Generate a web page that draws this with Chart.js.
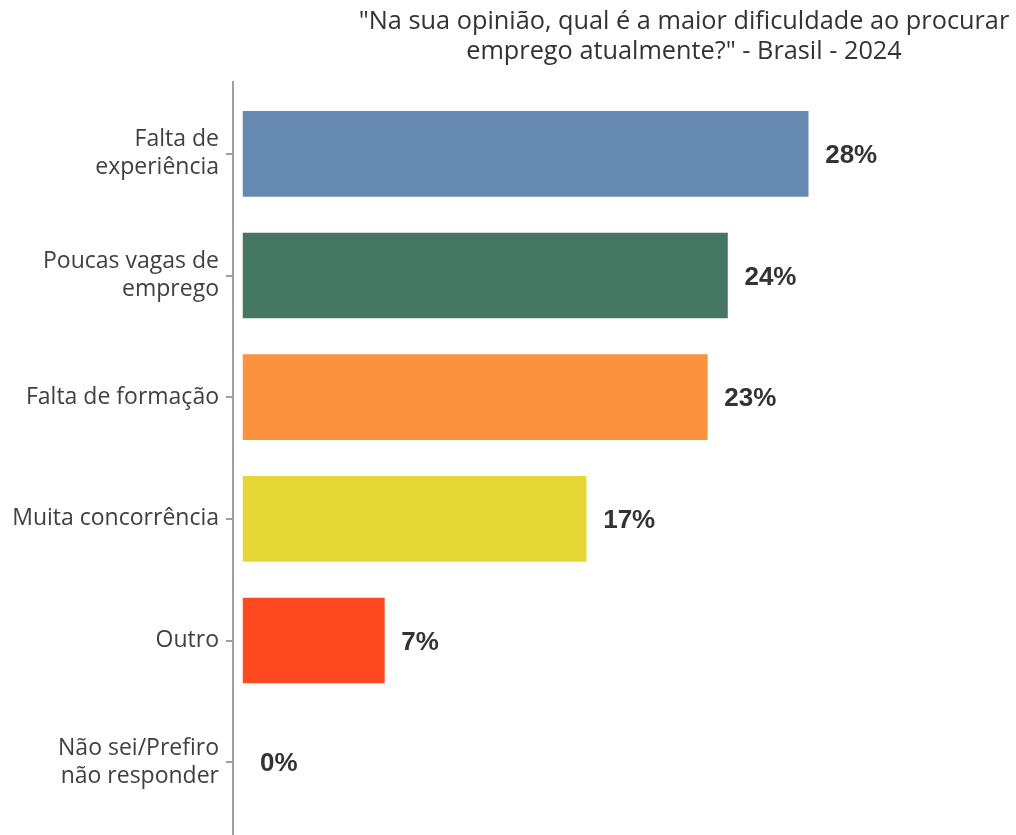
<!DOCTYPE html>
<html>
<head>
<meta charset="utf-8">
<script src="https://cdn.jsdelivr.net/npm/chart.js@4/dist/chart.umd.min.js"></script>
<style>
html,body{margin:0;padding:0;background:#fff;}
#wrap{width:1016px;height:835px;position:relative;}
</style>
</head>
<body>
<div id="wrap"><canvas id="c" width="1016" height="835"></canvas></div>
<script>
const categories = [
  ["Falta de", "experiência"],
  ["Poucas vagas de", "emprego"],
  "Falta de formação",
  "Muita concorrência",
  "Outro",
  ["Não sei/Prefiro", "não responder"]
];
const values = [28, 24, 23, 17, 7, 0];
const valueLabels = ["28%", "24%", "23%", "17%", "7%", "0%"];
const barColors = ["#6689B1", "#457563", "#FA923E", "#E5D836", "#FF4A21", "rgba(0,0,0,0)"];
const titleLines = ["\"Na sua opinião, qual é a maior dificuldade ao procurar", "emprego atualmente?\" - Brasil - 2024"];

const extras = {
  id: 'extras',
  afterDraw(chart) {
    const ctx = chart.ctx;
    ctx.save();
    // title
    ctx.fillStyle = '#333333';
    ctx.font = '25.3px "Open Sans"';
    ctx.textAlign = 'center';
    ctx.textBaseline = 'middle';
    titleLines.forEach((t, i) => ctx.fillText(t, 684, 22 + i * 30));
    // axis line
    ctx.strokeStyle = '#a0a0a0';
    ctx.lineWidth = 2;
    ctx.beginPath();
    ctx.moveTo(chart.chartArea.left, 81);
    ctx.lineTo(chart.chartArea.left, 835);
    ctx.stroke();
    // value labels
    ctx.font = 'bold 26px "Liberation Sans"';
    ctx.fillStyle = '#333333';
    ctx.textAlign = 'left';
    const meta = chart.getDatasetMeta(0);
    meta.data.forEach((bar, i) => {
      ctx.fillText(valueLabels[i], bar.x + 17, bar.y + 2);
    });
    ctx.restore();
  }
};

new Chart(document.getElementById('c'), {
  type: 'bar',
  data: {
    labels: categories,
    datasets: [{
      data: values,
      backgroundColor: barColors,
      borderWidth: 0,
      barThickness: 85
    }]
  },
  options: {
    indexAxis: 'y',
    responsive: false,
    animation: false,
    layout: { padding: { top: 93, bottom: 12, left: 0, right: 6 } },
    plugins: { legend: { display: false }, tooltip: { enabled: false }, title: { display: false } },
    scales: {
      x: {
        display: false,
        min: -0.5,
        max: 38
      },
      y: {
        afterFit(scale) { scale.width = 233; scale.paddingTop = 0; scale.paddingBottom = 0; },
        border: { display: false },
        grid: { offset: false, drawOnChartArea: false, drawTicks: true, tickLength: 7, color: '#a0a0a0', lineWidth: 2 },
        ticks: {
          color: '#404040',
          font: { family: '"Open Sans"', size: 23, lineHeight: 1.22 },
          padding: 7
        }
      }
    }
  },
  plugins: [extras]
});
</script>
</body>
</html>
